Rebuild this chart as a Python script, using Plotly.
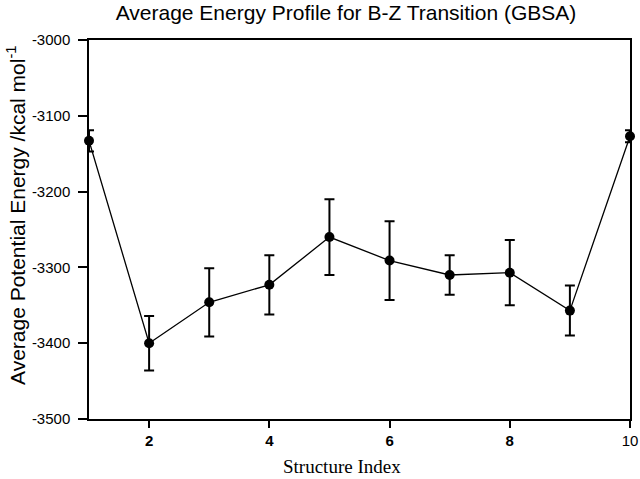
import plotly.graph_objects as go

structure_index = [1, 2, 3, 4, 5, 6, 7, 8, 9, 10]
avg_energy = [-3133, -3400, -3346, -3323, -3260, -3291, -3310, -3307, -3357, -3127]
err_energy = [14, 36, 45, 39, 50, 52, 26, 43, 33, 8]

x_ticks = [2, 4, 6, 8, 10]
x_ticktext = ["<b>2</b>", "<b>4</b>", "<b>6</b>", "<b>8</b>", "10"]
y_ticks = [-3500, -3400, -3300, -3200, -3100, -3000]
y_ticktext = ["-3500", "-3400", "-3300", "-3200", "-3100", "-3000"]

W, H = 640, 479
L, R, T, B = 89, 10, 40, 60
pw, ph = W - L - R, H - T - B

fig = go.Figure()
fig.add_trace(go.Scatter(
    x=structure_index, y=avg_energy,
    mode="lines+markers",
    line=dict(color="black", width=1.3),
    marker=dict(color="black", size=10),
    error_y=dict(type="data", array=err_energy, visible=True,
                 color="black", thickness=2, width=5),
    cliponaxis=False,
    showlegend=False,
))

sans = "Liberation Sans, Arial"
fig.update_layout(
    width=W, height=H,
    margin=dict(l=L, r=R, t=T, b=B),
    paper_bgcolor="white", plot_bgcolor="white",
    title=dict(text="Average Energy Profile for B-Z Transition (GBSA)",
               xref="container", yref="container",
               x=346 / W, xanchor="center", y=1 - 13 / H, yanchor="middle",
               font=dict(family=sans, size=21, color="black")),
    xaxis=dict(range=[1, 10], tickvals=x_ticks, ticktext=x_ticktext,
               ticks="outside", ticklen=7, tickwidth=1.5, tickcolor="black",
               showline=True, linecolor="black", linewidth=1.5, mirror=True,
               showgrid=False, zeroline=False, automargin=False,
               tickfont=dict(family=sans, size=15, color="black")),
    yaxis=dict(range=[-3500, -3000], tickvals=y_ticks, ticktext=y_ticktext,
               ticks="outside", ticklen=9, tickwidth=1.5, tickcolor="black",
               ticklabelstandoff=5,
               showline=True, linecolor="black", linewidth=1.5, mirror=True,
               showgrid=False, zeroline=False, automargin=False,
               tickfont=dict(family=sans, size=15, color="black")),
    annotations=[
        dict(text="Average Potential Energy /kcal mol<sup>-1</sup>",
             xref="paper", yref="paper",
             x=(16 - L) / pw, y=(H - B - 215) / ph,
             xanchor="center", yanchor="middle", textangle=-90,
             showarrow=False,
             font=dict(family=sans, size=21, color="black")),
        dict(text="Structure Index",
             xref="paper", yref="paper",
             x=(342 - L) / pw, y=(H - B - 466) / ph,
             xanchor="center", yanchor="middle",
             showarrow=False,
             font=dict(family="Liberation Serif, Times New Roman", size=19,
                       color="black")),
    ],
)

fig.write_html("out.html",
               config={"displayModeBar": False},
               post_script="document.body.style.margin='0';document.body.style.overflow='hidden';")
